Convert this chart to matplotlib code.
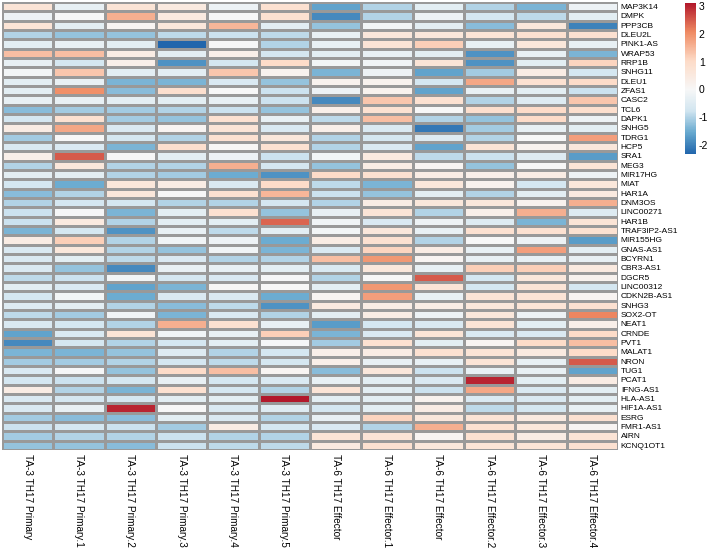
import numpy as np
import matplotlib
matplotlib.use('Agg')
import matplotlib.pyplot as plt
from matplotlib.colors import LinearSegmentedColormap, Normalize

plt.rcParams['font.family'] = ['Liberation Sans', 'DejaVu Sans']
plt.rcParams['axes.unicode_minus'] = False

genes = ['MAP3K14', 'DMPK', 'PPP3CB', 'DLEU2L', 'PINK1-AS', 'WRAP53', 'RRP1B',
         'SNHG11', 'DLEU1', 'ZFAS1', 'CASC2', 'TCL6', 'DAPK1', 'SNHG5', 'TDRG1',
         'HCP5', 'SRA1', 'MEG3', 'MIR17HG', 'MIAT', 'HAR1A', 'DNM3OS', 'LINC00271',
         'HAR1B', 'TRAF3IP2-AS1', 'MIR155HG', 'GNAS-AS1', 'BCYRN1', 'CBR3-AS1',
         'DGCR5', 'LINC00312', 'CDKN2B-AS1', 'SNHG3', 'SOX2-OT', 'NEAT1', 'CRNDE',
         'PVT1', 'MALAT1', 'NRON', 'TUG1', 'PCAT1', 'IFNG-AS1', 'HLA-AS1',
         'HIF1A-AS1', 'ESRG', 'FMR1-AS1', 'AIRN', 'KCNQ1OT1']

samples = ['TA-3 TH17 Primary', 'TA-3 TH17 Primary.1', 'TA-3 TH17 Primary.2',
           'TA-3 TH17 Primary.3', 'TA-3 TH17 Primary.4', 'TA-3 TH17 Primary.5',
           'TA-6 TH17 Effector', 'TA-6 TH17 Effector.1', 'TA-6 TH17 Effector',
           'TA-6 TH17 Effector.2', 'TA-6 TH17 Effector.3', 'TA-6 TH17 Effector.4']

# one list per sample, values in gene order (row-scaled expression)
primary = [0.7, -0.2, 0.7, -1.0, -0.4, 1.4, -0.3, -0.1, -0.4, -0.4, -0.3, -1.3,
           -0.7, 0.4, -1.1, -0.6, 0.3, -1.0, -0.4, -0.7, -1.3, -1.0, -0.8, -0.8,
           -1.4, 0.4, -0.6, -0.6, -0.6, -0.9, -0.4, -0.7, -0.5, -0.9, -0.6, -1.6,
           -1.9, -1.4, -1.1, -0.6, -0.7, 0.4, -0.6, -0.6, -1.1, -0.8, -1.1, -1.2]
primary_1 = [-0.3, 0.0, -0.4, -1.2, -0.3, 1.4, -0.7, 1.3, -0.3, 2.0, -0.3, -1.1,
             0.8, 1.7, 0.0, -0.6, 2.5, 0.6, -0.4, -1.5, -1.0, -0.7, -0.05, 0.5,
             -0.7, 1.2, 0.6, -0.4, -1.2, -0.8, -0.6, -0.1, -0.4, -1.1, -0.7, -0.6,
             -0.7, -1.4, -1.1, -0.05, -0.8, -1.0, -0.7, -0.3, -1.3, -0.7, -1.0, -1.2]
primary_2 = [0.7, 1.6, 0.1, -1.2, -0.4, 0.4, 0.3, -0.4, -1.4, -1.3, -0.4, -1.1,
             -1.1, -0.6, -0.7, -1.4, 0.0, -1.0, -1.0, 0.6, 0.6, -0.7, -1.4, -1.0,
             -1.8, -1.0, -1.0, -0.9, -1.9, -0.1, -1.6, -1.5, -1.0, -0.15, -1.0, 0.7,
             -1.0, -1.2, -1.0, -1.2, -0.7, -1.4, -0.7, 3.0, -1.3, -0.8, -1.0, -1.3]
primary_3 = [0.5, 0.5, 0.6, -0.9, -2.3, -0.4, -1.8, -0.4, -1.4, 0.9, -0.4, -1.0,
             -1.2, 0.1, -1.0, 0.9, -0.4, -1.0, -1.1, 0.4, 0.0, -1.0, -0.4, -0.4,
             -0.3, -0.15, -1.2, -0.6, -0.3, -0.7, -1.4, -0.6, -1.3, -1.4, 1.6, -0.15,
             -0.7, -0.5, -0.7, 1.0, -0.3, 0.8, -0.4, 0.0, -0.4, -1.1, -0.8, -0.8]
primary_4 = [-0.2, 0.0, 1.5, -0.8, -0.05, 0.3, -0.7, 1.3, -0.6, 0.0, -0.3, -0.8,
             0.8, 0.7, 0.8, 0.05, -0.2, 1.6, -1.5, -0.6, 0.8, -1.0, 0.8, -0.4,
             -0.9, -0.2, -0.15, -1.0, -0.3, -0.6, 0.05, -0.6, -0.9, -0.6, 0.8, -0.3,
             -0.4, -1.0, -0.9, 1.4, -0.7, -0.7, -0.4, -0.6, -0.6, 0.4, -1.0, -0.9]
primary_5 = [0.8, 0.8, -0.4, -0.9, -1.0, -0.7, 1.0, 0.2, -1.2, -0.8, -0.8, -1.2,
             -0.3, -0.6, 0.6, 0.8, -0.8, -0.7, -1.8, 1.0, 1.5, -0.7, -1.2, 2.4,
             -0.4, -1.5, -1.4, -1.0, -0.4, -0.05, 0.0, -1.5, -1.8, -1.0, -0.3, 1.2,
             -0.05, -0.7, -0.7, 0.1, -0.6, -1.0, 3.1, -0.5, -1.0, -0.7, -1.0, -0.9]
effector = [-1.6, -1.9, -1.2, -0.3, -0.3, -0.4, -0.1, -1.4, 0.2, -0.2, -1.9, 0.3,
            -0.9, 0.3, -1.0, -1.0, -0.1, -1.2, 1.0, -0.9, -0.8, -1.0, -0.3, -0.15,
            -0.1, 0.4, -0.6, 1.4, -0.6, -1.0, -0.4, 0.1, 0.5, -0.4, -1.7, -1.4,
            -1.1, 0.3, 0.3, -1.3, -0.3, 0.7, -0.4, -0.7, -0.3, -0.6, 0.7, 0.5]
effector_1 = [-1.0, -1.0, -0.1, 0.6, 0.7, -0.3, -0.15, -0.2, 0.2, 0.2, 1.3, 0.8,
              1.4, -0.6, -0.7, -0.6, 0.5, 0.4, 0.8, -1.4, -1.2, 0.4, 0.7, -0.6,
              0.6, 0.8, 1.1, 1.9, 0.6, 0.0, 1.9, 1.8, 0.4, 0.4, -0.7, -0.6,
              0.8, 0.4, -0.3, 0.6, -0.4, -0.4, -0.4, -0.4, 1.1, -1.0, 0.7, 0.8]
effector_b = [-0.4, -0.2, -0.4, 0.6, 1.2, -0.4, 0.7, -1.6, -0.7, -1.6, 0.8, 0.0,
              -1.0, -2.1, -0.5, -1.6, -0.9, 0.1, 0.4, 0.6, -0.4, 0.6, -1.0, -0.2,
              -0.3, -1.0, 0.4, 0.1, -0.3, 2.5, 0.7, -0.3, 0.4, -0.2, -0.6, 0.7,
              -0.4, 0.8, -0.3, -0.8, -0.6, -0.8, 0.2, 0.4, 0.6, 1.6, 0.1, 0.6]
effector_2 = [-1.0, -0.7, -1.3, 0.7, -0.3, -1.8, -1.8, -1.1, 1.7, -0.3, -1.0, 0.9,
              -1.2, -1.1, -1.0, 0.7, -0.8, -1.2, 0.3, 0.2, -1.0, 0.6, 0.3, -0.5,
              0.8, 0.0, -0.3, -0.3, 1.2, -0.7, -0.7, 0.7, 0.6, 0.6, 0.7, -0.6,
              0.1, 0.7, 0.7, -0.3, 3.0, 1.7, -0.6, -0.9, 0.7, 0.8, 0.8, 0.7]
effector_3 = [-1.4, -0.9, 0.6, 0.8, 0.6, -0.3, -0.4, 0.4, 0.8, -0.4, -0.5, 1.0,
              1.0, -0.3, 0.0, 0.2, -0.5, 0.0, 0.4, -0.7, -0.4, 0.2, 1.6, -1.4,
              0.8, -0.2, 1.8, -0.3, 1.2, 0.6, 0.7, 0.7, 0.7, -0.2, -0.4, -0.6,
              1.0, 0.5, -0.3, -0.3, -0.4, -0.6, -0.6, -0.7, 0.5, 0.6, 0.4, 0.7]
effector_4 = [-0.2, -0.4, -2.0, 0.8, -0.3, -1.4, 1.1, -0.7, 1.0, -0.8, 1.3, 0.9,
              -0.2, -0.4, 1.8, 0.6, -1.7, 0.7, -0.2, 0.6, 0.5, 1.6, -0.5, 0.7,
              0.8, -1.7, -0.4, -0.3, 0.5, 0.2, -0.7, 0.1, 0.8, 2.1, 0.3, 1.0,
              1.4, 1.0, 2.5, -1.6, 0.4, -0.4, -0.4, -0.3, 0.8, 0.1, 0.7, 0.8]

vmin, vmax = -2.32, 3.11

mat = np.column_stack([primary, primary_1, primary_2, primary_3, primary_4, primary_5,
                       effector, effector_1, effector_b, effector_2, effector_3, effector_4])

# RdBu (7 class) reversed, white pinned at zero
f0 = -vmin / (vmax - vmin)
nodes = [(0.0, '#2166AC'), (f0 / 3, '#67A9CF'), (2 * f0 / 3, '#D1E5F0'), (f0, '#F7F7F7'),
         (f0 + (1 - f0) / 3, '#FDDBC7'), (f0 + 2 * (1 - f0) / 3, '#EF8A62'), (1.0, '#B2182B')]
cmap = LinearSegmentedColormap.from_list('rdbu7', nodes, N=256)
norm = Normalize(vmin=vmin, vmax=vmax)

W, H = 709, 549
fig = plt.figure(figsize=(W / 100, H / 100), dpi=100)
ax = fig.add_axes([2 / W, 1 - 450 / H, 616 / W, 448 / H])

ax.pcolormesh(np.arange(len(samples) + 1), np.arange(len(genes) + 1), mat,
              cmap=cmap, norm=norm, edgecolors='#999999', linewidth=0.8)
ax.set_xlim(0, len(samples))
ax.set_ylim(len(genes), 0)
for s in ax.spines.values():
    s.set_visible(False)

ax.yaxis.tick_right()
ax.set_yticks(np.arange(len(genes)) + 0.5)
ax.set_yticklabels(genes, fontsize=6)
ax.set_xticks(np.arange(len(samples)) + 0.5)
ax.set_xticklabels(samples, rotation=-90, fontsize=7.2, va='top', ha='center')
ax.tick_params(axis='y', length=0, pad=2)
ax.tick_params(axis='x', length=0, pad=3)

cax = fig.add_axes([685 / W, 1 - 154 / H, 11 / W, 151 / H])
cb = fig.colorbar(plt.cm.ScalarMappable(norm=norm, cmap=cmap), cax=cax)
cb.outline.set_visible(False)
cb.set_ticks([-2, -1, 0, 1, 2, 3])
cb.ax.tick_params(length=0, labelsize=7.5, pad=2)

fig.savefig('out.png', dpi=100)
